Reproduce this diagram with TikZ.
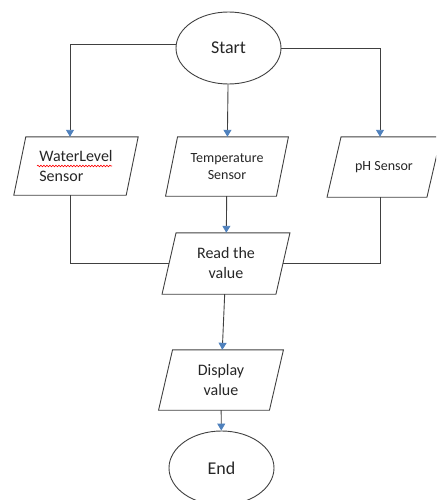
\documentclass[tikz,border=0pt]{standalone}
\usepackage{fontspec}
\setmainfont{Carlito}
\usetikzlibrary{shapes.geometric,arrows.meta,decorations.pathmorphing}
\definecolor{linegray}{HTML}{404040}
\definecolor{arrowblue}{HTML}{4F81BD}
\definecolor{textgray}{HTML}{262626}
\tikzset{
  term/.style={ellipse,draw=linegray,line width=0.9pt,minimum width=105pt,minimum height=72pt,inner sep=0pt,font=\fontsize{18}{22}\selectfont,text=textgray},
  io/.style={rectangle,draw=none,inner sep=0pt,align=center,text=textgray,font=\fontsize{16}{20}\selectfont},
  small/.style={font=\fontsize{14}{17}\selectfont},
  conn/.style={draw=linegray,line width=0.9pt},
  arr/.style={conn,-{Triangle[length=7pt,width=8pt,color=arrowblue]}},
}
\newcommand\parabox[2]{%
  \draw[conn,line join=miter] ([xshift=#2/2]#1.north west) -- ([xshift=#2/2]#1.north east)
    -- ([xshift=-#2/2]#1.south east) -- ([xshift=-#2/2]#1.south west) -- cycle;}
\begin{document}
\begin{tikzpicture}[x=1pt,y=-1pt]
\useasboundingbox (0,0) rectangle (436,500);
\clip (0,0) rectangle (436,500);
\node[term] (start) at (228.5,48) {Start};
\node[io,minimum width=112pt,minimum height=58pt,align=left] (wl) at (76,166) {WaterLevel\\Sensor};
\node[io,small,minimum width=110.5pt,minimum height=59pt] (temp) at (227,166.5) {Temperature\\Sensor};
\node[io,small,minimum width=99.5pt,minimum height=60pt] (ph) at (384,167) {pH Sensor};
\node[io,minimum width=113.5pt,minimum height=61pt] (read) at (226,263.5) {Read the\\value};
\node[io,minimum width=110.5pt,minimum height=60pt] (disp) at (221,380) {Display\\value};
\node[term,minimum height=74pt] (end) at (221.5,468) {End};
\parabox{wl}{12}
\parabox{temp}{12}
\parabox{ph}{14}
\parabox{read}{14}
\parabox{disp}{14}
\draw[red,line width=0.6pt,decorate,decoration={snake,segment length=3pt,amplitude=0.8pt}] (37,166) -- (112,166);
\draw[arr] ([yshift=4pt]start.west) -| ([xshift=-6pt]wl.north);
\draw[arr] (start.east) -| ([xshift=-4pt]ph.north);
\draw[arr] (start) -- (temp);
\draw[conn] ([xshift=-6pt]wl.south) |- (read.west);
\draw[conn] ([xshift=-4pt]ph.south) |- (read.east);
\draw[arr] (temp) -- (read);
\draw[arr] (read) -- (disp);
\draw[arr] (disp) -- (end);
\end{tikzpicture}
\end{document}
